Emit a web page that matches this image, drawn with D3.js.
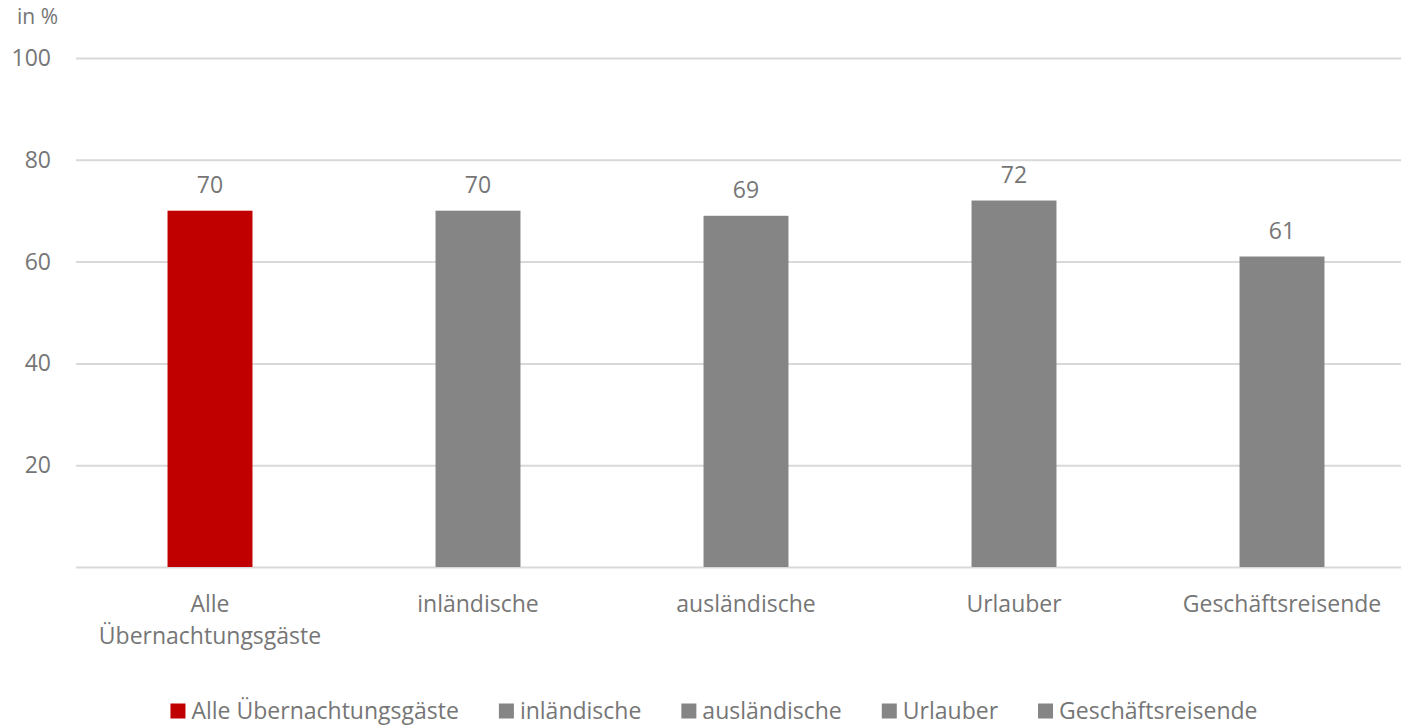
<!DOCTYPE html>
<html lang="de">
<head>
  <meta charset="UTF-8">
  <title>Übernachtungsgäste in %</title>
  <style>
    body {
      margin: 0;
      padding: 0;
      background: #fff;
      font-family: "Open Sans", sans-serif;
    }
    text {
      fill: #767676;
    }
    .grid line {
      stroke: #d9d9d9;
      stroke-width: 2px;
    }
    .grid path {
      display: none;
    }
  </style>
</head>
<body>
  <div id="chart"></div>

  <script src="https://d3js.org/d3.v7.min.js"></script>
  <script>
    const categories = ["Alle Übernachtungsgäste", "inländische", "ausländische", "Urlauber", "Geschäftsreisende"];
    const axisLabels = [["Alle", "Übernachtungsgäste"], ["inländische"], ["ausländische"], ["Urlauber"], ["Geschäftsreisende"]];
    const values = [70, 70, 69, 72, 61];
    const colors = ["#c00000", "#858585", "#858585", "#858585", "#858585"];
    const yTicks = [20, 40, 60, 80, 100];
    const unitLabel = "in %";

    const W = 1401, H = 728;
    const margin = { top: 58, right: -15, bottom: 161, left: 76 };
    const width = W - margin.left - margin.right;
    const height = H - margin.top - margin.bottom;
    const fontSize = 23;

    const svg = d3.select("#chart")
      .append("svg")
        .attr("width", W)
        .attr("height", H);

    const g = svg.append("g")
      .attr("transform", `translate(${margin.left},${margin.top})`);

    // Scales
    const x = d3.scaleBand()
      .domain(categories)
      .range([0, width])
      .paddingInner(0.683)
      .paddingOuter(0.683 / 2);

    const y = d3.scaleLinear()
      .domain([0, 100])
      .range([height, 0]);

    // Gridlines
    g.append("g")
      .attr("class", "grid")
      .call(d3.axisLeft(y).tickValues([0].concat(yTicks)).tickSize(-width).tickFormat(""));

    // Y tick labels
    g.selectAll(".ylab")
      .data(yTicks)
      .enter().append("text")
        .attr("x", -25)
        .attr("y", d => y(d))
        .attr("dy", "0.35em")
        .attr("text-anchor", "end")
        .style("font-size", fontSize + "px")
        .text(d => d);

    svg.append("text")
      .attr("x", 17)
      .attr("y", 24)
      .style("font-size", "21px")
      .text(unitLabel);

    // Bars
    g.selectAll(".bar")
      .data(values)
      .enter().append("rect")
        .attr("x", (d, i) => x(categories[i]))
        .attr("y", d => y(d))
        .attr("width", x.bandwidth())
        .attr("height", d => height - y(d))
        .attr("fill", (d, i) => colors[i]);

    // Value labels
    g.selectAll(".val")
      .data(values)
      .enter().append("text")
        .attr("x", (d, i) => x(categories[i]) + x.bandwidth() / 2)
        .attr("y", d => y(d) - 18)
        .attr("text-anchor", "middle")
        .style("font-size", fontSize + "px")
        .text(d => d);

    // Category labels
    axisLabels.forEach((lines, i) => {
      const t = g.append("text")
        .attr("text-anchor", "middle")
        .attr("transform", `translate(${x(categories[i]) + x.bandwidth() / 2},${height + 45})`)
        .style("font-size", fontSize + "px");
      lines.forEach((l, j) => {
        t.append("tspan")
          .attr("x", 0)
          .attr("y", j * 32)
          .text(l);
      });
    });

    // Legend
    const legend = svg.append("g");
    let lx = 0;
    categories.forEach((c, i) => {
      const item = legend.append("g").attr("transform", `translate(${lx},0)`);
      item.append("rect")
        .attr("x", 0)
        .attr("y", -7.5)
        .attr("width", 15)
        .attr("height", 15)
        .attr("fill", colors[i]);
      const t = item.append("text")
        .attr("x", 21)
        .attr("dy", "0.35em")
        .style("font-size", fontSize + "px")
        .text(c);
      lx += 21 + t.node().getComputedTextLength() + 40;
    });
    const legendW = lx - 40;
    legend.attr("transform", `translate(${714 - legendW / 2},711)`);
  </script>
</body>
</html>
